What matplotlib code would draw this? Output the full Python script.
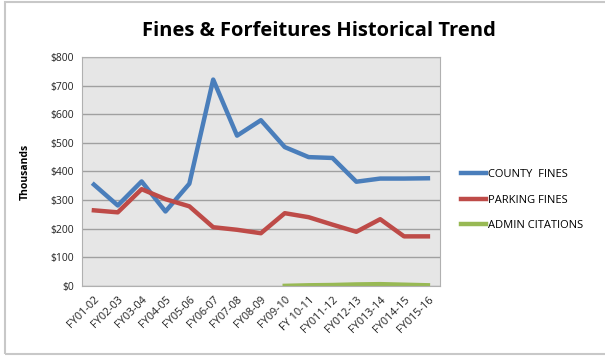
import matplotlib.pyplot as plt
from matplotlib.patches import Rectangle

# Data (thousands of dollars)
years = ['FY01-02', 'FY02-03', 'FY03-04', 'FY04-05', 'FY05-06', 'FY06-07', 'FY07-08',
         'FY08-09', 'FY09-10', 'FY 10-11', 'FY011-12', 'FY012-13', 'FY013-14',
         'FY014-15', 'FY015-16']
county_fines = [354, 281, 365, 260, 357, 721, 525, 579, 485, 450, 447, 364, 375, 375, 376]
parking_fines = [264, 257, 338, 303, 278, 205, 196, 184, 254, 240, 214, 189, 233, 173, 173]
admin_years = years[8:]
admin_citations = [0, 2, 3, 5, 6, 4, 2]

plt.rcParams['font.family'] = ['Open Sans', 'DejaVu Sans']

fig = plt.figure(figsize=(6.05, 3.56), dpi=100)
ax = fig.add_axes([0.1355, 0.197, 0.5915, 0.643])

# chart frame
fig.patches.append(Rectangle((0.009, 0.006), 1.2, 0.988, transform=fig.transFigure,
                             fill=False, edgecolor='#c8c8c8', linewidth=1.5))

x = list(range(len(years)))
ax.set_facecolor('#e6e6e6')
ax.plot(x, county_fines, color='#4a7ebb', linewidth=3.2, label='COUNTY  FINES')
ax.plot(x, parking_fines, color='#be4b48', linewidth=3.2, label='PARKING FINES')
ax.plot(x[8:], admin_citations, color='#98b954', linewidth=3.2, label='ADMIN CITATIONS')

ax.set_ylim(0, 800)
ax.set_xlim(-0.5, len(years) - 0.5)
ax.set_yticks(range(0, 801, 100))
ax.set_yticklabels(['$' + str(v) for v in range(0, 801, 100)], fontsize=7.5, color='#222222')
ax.set_xticks(x)
ax.set_xticklabels(years, rotation=45, ha='right', rotation_mode='anchor', fontsize=7.8,
                   color='#222222')
ax.tick_params(length=0, pad=6)
ax.grid(axis='y', color='#a0a0a0', linewidth=1)
ax.set_axisbelow(True)
for s in ax.spines.values():
    s.set_color('#b0b0b0')

ax.set_ylabel('Thousands', fontsize=7.5, fontweight='bold', labelpad=14)
fig.text(0.527, 0.912, 'Fines & Forfeitures Historical Trend', ha='center', va='center',
         fontsize=14.5, fontweight='bold')

ax.legend(loc='center left', bbox_to_anchor=(1.03, 0.375), frameon=False, fontsize=8,
          handlelength=2.3, handletextpad=0.15, labelspacing=1.3)

fig.savefig('out.png', dpi=100)
